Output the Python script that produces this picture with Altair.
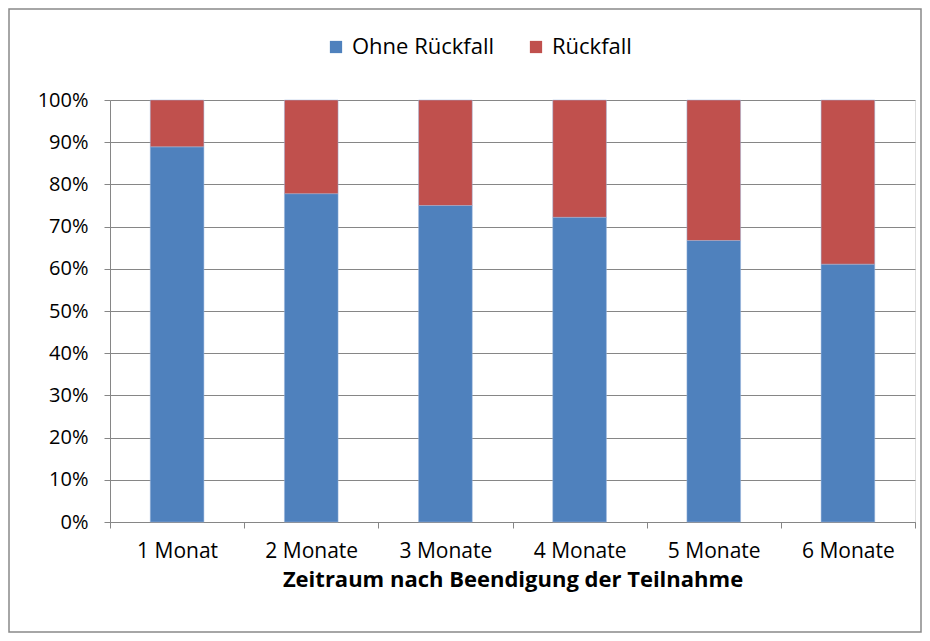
import altair as alt
import pandas as pd

categories = ["1 Monat", "2 Monate", "3 Monate", "4 Monate", "5 Monate", "6 Monate"]
ohne_rueckfall = [88.9, 77.8, 75.0, 72.2, 66.7, 61.1]
rueckfall = [11.1, 22.2, 25.0, 27.8, 33.3, 38.9]
series = ["Ohne Rückfall", "Rückfall"]
colors = ["#4F81BD", "#C0504D"]

rows = []
for c, a, b in zip(categories, ohne_rueckfall, rueckfall):
    rows.append({"Zeitraum": c, "Serie": series[0], "Wert": a, "Ordnung": 0})
    rows.append({"Zeitraum": c, "Serie": series[1], "Wert": b, "Ordnung": 1})
df = pd.DataFrame(rows)

FONT = "Open Sans"
GRAY = "#868686"

bars = alt.Chart(df).mark_bar(stroke="#9db7dd", strokeWidth=0.5, width={"band": 0.4}).encode(
    x=alt.X("Zeitraum:N", sort=categories,
            scale=alt.Scale(paddingInner=0, paddingOuter=0),
            axis=alt.Axis(title="Zeitraum nach Beendigung der Teilnahme", labelAngle=0,
                          tickBand="extent", tickSize=6, tickColor=GRAY, domainColor=GRAY,
                          labelFontSize=21, labelPadding=12, labelColor="#000",
                          titleFontSize=22, titleFontWeight="bold", titleColor="#000",
                          titlePadding=8, grid=False, labelFont=FONT, titleFont=FONT)),
    y=alt.Y("Wert:Q", stack="normalize",
            scale=alt.Scale(domain=[0, 1]),
            axis=alt.Axis(title=None, format=".0%", values=[i / 10 for i in range(11)],
                          tickSize=6, tickColor=GRAY, domainColor=GRAY, gridColor=GRAY,
                          labelFontSize=20, labelPadding=16, labelColor="#000",
                          labelFont=FONT)),
    color=alt.Color("Serie:N", scale=alt.Scale(domain=series, range=colors),
                    legend=alt.Legend(title=None, orient="none", direction="horizontal",
                                      legendX=215, legendY=-64, symbolType="square",
                                      symbolSize=150, symbolStrokeWidth=0,
                                      labelFontSize=22, labelFont=FONT, labelColor="#000",
                                      columnPadding=30, labelOffset=5)),
    order=alt.Order("Ordnung:Q", sort="ascending"),
)

frame = alt.Chart(pd.DataFrame({"f": [0]})).mark_rect(
    fill=None, stroke="#898989", strokeWidth=1.5
).encode(
    x=alt.value(-101), x2=alt.value(811),
    y=alt.value(-91), y2=alt.value(532),
)

chart = alt.layer(bars, frame).properties(
    width=805, height=422,
    autosize=alt.AutoSizeParams(type="none"),
    padding={"left": 102, "top": 92, "right": 7, "bottom": 111},
).configure_view(stroke=None).configure(background="white")

chart.save("out.html", embed_options={"renderer": "svg", "actions": False})
